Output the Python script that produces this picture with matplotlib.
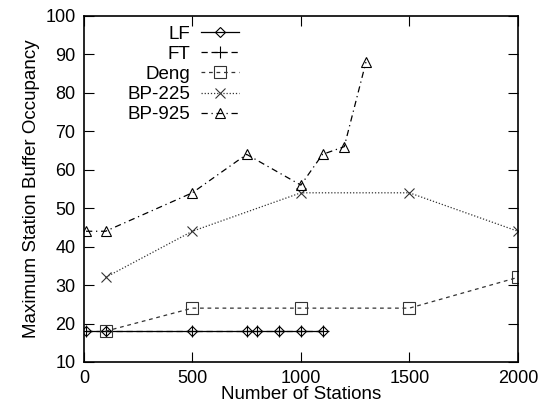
import matplotlib
matplotlib.use('Agg')
import matplotlib.pyplot as plt

plt.rcParams['font.family'] = ['Liberation Sans', 'DejaVu Sans']

lf_x = [10, 100, 500, 750, 800, 900, 1000, 1100]
lf_y = [18, 18, 18, 18, 18, 18, 18, 18]
ft_x = [10, 100, 500, 750, 800, 900, 1000, 1100]
ft_y = [18, 18, 18, 18, 18, 18, 18, 18]
deng_x = [100, 500, 1000, 1500, 2000]
deng_y = [18, 24, 24, 24, 32]
bp225_x = [100, 500, 1000, 1500, 2000]
bp225_y = [32, 44, 54, 54, 44]
bp925_x = [10, 100, 500, 750, 1000, 1100, 1200, 1300]
bp925_y = [44, 44, 54, 64, 56, 64, 66, 88]

fig = plt.figure(figsize=(5.48, 4.09), dpi=100)
ax = fig.add_axes([0.153, 0.115, 0.792, 0.846])

ax.plot(lf_x, lf_y, color='black', lw=0.9, marker='D', ms=5, mfc='none', mew=0.8, label='LF')
ax.plot(ft_x, ft_y, color='black', lw=0.9, ls=(0, (5, 3)), marker='+', ms=8, mew=0.8, label='FT')
ax.plot(deng_x, deng_y, color='#333333', lw=0.9, ls=(0, (3, 3)), marker='s', ms=8, mfc='none', mew=0.8, label='Deng')
ax.plot(bp225_x, bp225_y, color='#333333', lw=0.9, ls=(0, (1, 1.5)), marker='x', ms=7, mew=0.8, label='BP-225')
ax.plot(bp925_x, bp925_y, color='black', lw=0.9, ls=(0, (5, 3, 1, 3)), marker='^', ms=7, mfc='none', mew=0.8, label='BP-925')

ax.set_xlim(0, 2000)
ax.set_ylim(10, 100)
ax.set_xticks([0, 500, 1000, 1500, 2000])
ax.set_yticks(range(10, 101, 10))
ax.tick_params(direction='in', top=True, right=True, length=7, labelsize=13, pad=6)
for s in ax.spines.values():
    s.set_linewidth(1.2)

ax.set_xlabel('Number of Stations', fontsize=13.5, labelpad=-1)
ax.set_ylabel('Maximum Station Buffer Occupancy', fontsize=13.5, labelpad=4)

ax.legend(loc='upper left', bbox_to_anchor=(0.07, 1.01), frameon=False, markerfirst=False,
          fontsize=13.5, handlelength=2.0, handletextpad=0.6, labelspacing=0.16, borderpad=0.2)

fig.savefig('out.png')
